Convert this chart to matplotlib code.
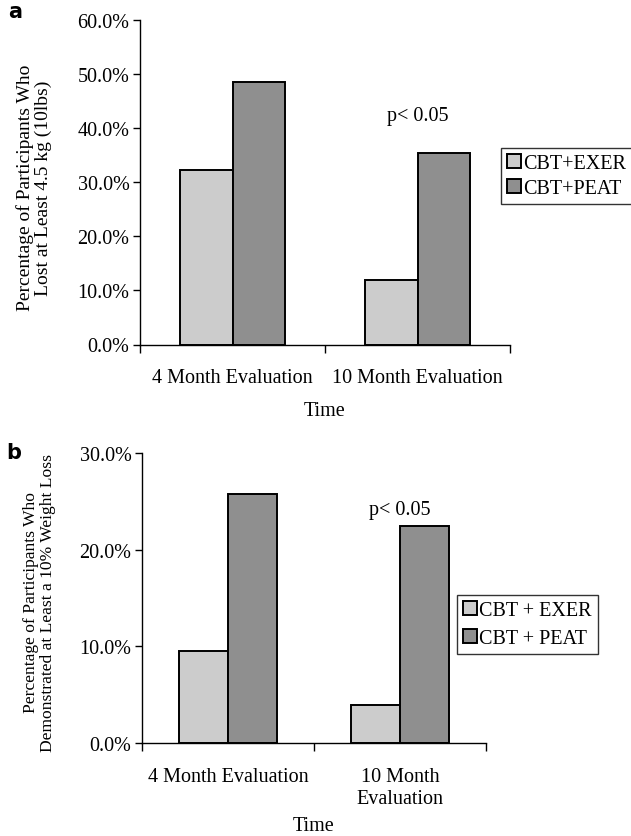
import numpy as np
import matplotlib.pyplot as plt
from matplotlib.ticker import FuncFormatter

plt.rcParams['font.family'] = ['Liberation Serif', 'DejaVu Serif']

# data
groups_a = ["4 Month Evaluation", "10 Month Evaluation"]
exer_a = [32.2, 11.9]
peat_a = [48.5, 35.5]
labels_a = ["CBT+EXER", "CBT+PEAT"]

groups_b = ["4 Month Evaluation", "10 Month\nEvaluation"]
exer_b = [9.55, 3.95]
peat_b = [25.75, 22.4]
labels_b = ["CBT + EXER", "CBT + PEAT"]

light = "#cccccc"
dark = "#8f8f8f"
W, H = 631, 837
fs = 14.5

fig = plt.figure(figsize=(W / 100, H / 100), dpi=100)


def box(l, t, r, b):
    return [l / W, 1 - b / H, (r - l) / W, (b - t) / H]


def panel(rect, groups, exer, peat, ymax, step, ylabel, ylab_fs, ylab_xy,
          names, leg_xy, ptxt_y, xlab_pad, lspace):
    ax = fig.add_axes(rect)
    x = np.arange(len(groups)) + 0.5
    bw = 1 / 3.5
    b1 = ax.bar(x - bw / 2, exer, bw, color=light, edgecolor="black", linewidth=1.4)
    b2 = ax.bar(x + bw / 2, peat, bw, color=dark, edgecolor="black", linewidth=1.4)
    ax.set_xlim(0, len(groups))
    ax.set_ylim(0, ymax)
    ax.set_yticks(np.arange(0, ymax + 0.01, step))
    ax.yaxis.set_major_formatter(FuncFormatter(lambda v, p: "%.1f%%" % v))
    ax.set_xticks(np.arange(len(groups) + 1))
    ax.set_xticklabels([])
    ax.set_xticks(x, minor=True)
    ax.set_xticklabels(groups, minor=True, fontsize=fs, linespacing=1.25)
    ax.tick_params(axis="x", which="minor", length=0, pad=17)
    ax.tick_params(axis="x", which="major", length=6, width=1, direction="out")
    ax.tick_params(axis="y", length=5, width=1, direction="out", labelsize=fs, pad=2.5)
    for s in ["top", "right"]:
        ax.spines[s].set_visible(False)
    ax.spines["left"].set_linewidth(1)
    ax.spines["bottom"].set_linewidth(1)
    ax.set_xlabel("Time", fontsize=fs, labelpad=xlab_pad)
    ax.set_ylabel(ylabel, fontsize=ylab_fs, linespacing=1.05)
    ax.yaxis.set_label_coords(*ylab_xy)
    ax.text(x[1], ptxt_y, "p< 0.05", ha="center", va="center", fontsize=fs)
    fig.legend([b1, b2], names, loc="upper left", bbox_to_anchor=leg_xy,
               frameon=True, fancybox=False, edgecolor="black", fontsize=fs,
               handlelength=0.7, handleheight=0.7, handletextpad=0.1,
               borderpad=0.3, labelspacing=lspace, borderaxespad=0)
    return ax


panel(box(140, 21, 510, 345.5), groups_a, exer_a, peat_a, 60, 10,
      "Percentage of Participants Who\nLost at Least 4.5 kg (10lbs)", 14,
      (-0.238, 0.485), labels_a, (501 / W, 1 - 149 / H), 42.4, 10, 0.3)
panel(box(142, 454, 486, 744), groups_b, exer_b, peat_b, 30, 10,
      "Percentage of Participants Who\nDemonstrated at Least a 10% Weight Loss", 12.6,
      (-0.25, 0.487), labels_b, (457 / W, 1 - 596 / H), 24.2, 6, 0.45)

fig.text(8 / W, 1 - 12 / H, "a", fontsize=15, fontweight="bold",
         family="DejaVu Sans", va="center")
fig.text(6 / W, 1 - 453 / H, "b", fontsize=15, fontweight="bold",
         family="DejaVu Sans", va="center")

fig.savefig("out.png", dpi=100)
